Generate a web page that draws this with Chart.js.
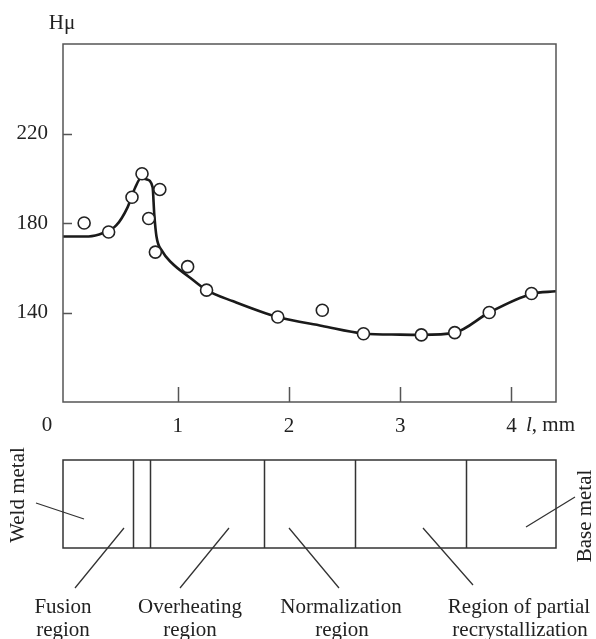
<!DOCTYPE html>
<html>
<head>
<meta charset="utf-8">
<title>Microhardness across the weld joint</title>
<script src="https://cdn.jsdelivr.net/npm/chart.js@4.4.1/dist/chart.umd.min.js"></script>
<style>
  html, body { margin: 0; padding: 0; background: #fff; }
  #wrap { width: 596px; height: 639px; }
</style>
</head>
<body>
<div id="wrap"><canvas id="myChart" width="596" height="639"></canvas></div>
<script>
// measured points (l, mm ; Hμ)
var pointX = [0.16, 0.38, 0.59, 0.68, 0.74, 0.80, 0.84, 1.09, 1.26, 1.90, 2.30, 2.67, 3.19, 3.49, 3.80, 4.18];
var pointY = [180, 176, 191.5, 202, 182, 167, 195, 160.5, 150, 138, 141, 130.5, 130, 131, 140, 148.5];

// fitted curve
var curveX = [-0.03, 0.2, 0.33, 0.45, 0.55, 0.62, 0.67, 0.72, 0.775, 0.79, 0.81, 0.86, 0.95, 1.1, 1.26, 1.5, 1.9, 2.3, 2.67, 3.0, 3.19, 3.49, 3.8, 4.18, 4.4];
var curveY = [174, 174, 175.5, 179, 187, 196, 200, 199.5, 196, 184, 174, 167.5, 162, 156, 150, 145, 138, 134, 130.6, 130.1, 130, 131, 140, 148.3, 149.5];

var xTicks = [1, 2, 3, 4];
var yTicks = [140, 180, 220];

// zone boundaries along l, mm
var zoneBounds = [0.596, 0.748, 1.78, 2.59, 3.59];

var FONT = '"Liberation Serif", "Times New Roman", serif';

function pairs(xs, ys) {
  var out = [];
  for (var i = 0; i < xs.length; i++) out.push({x: xs[i], y: ys[i]});
  return out;
}

var extras = {
  id: 'extras',
  afterDraw: function(chart) {
    var ctx = chart.ctx;
    var a = chart.chartArea;
    var sx = chart.scales.x, sy = chart.scales.y;
    ctx.save();

    // frame
    ctx.strokeStyle = '#555';
    ctx.lineWidth = 1.5;
    ctx.strokeRect(a.left, a.top, a.right - a.left, a.bottom - a.top);

    // inward ticks
    ctx.beginPath();
    yTicks.forEach(function(v) {
      var py = Math.round(sy.getPixelForValue(v)) + 0.5;
      ctx.moveTo(a.left, py); ctx.lineTo(a.left + 9, py);
    });
    xTicks.forEach(function(v) {
      var px = Math.round(sx.getPixelForValue(v)) + 0.5;
      ctx.moveTo(px, a.bottom); ctx.lineTo(px, a.bottom - 15);
    });
    ctx.stroke();

    ctx.fillStyle = '#222';
    ctx.font = '21px ' + FONT;
    ctx.textBaseline = 'middle';
    ctx.textAlign = 'center';
    ctx.fillText('Hμ', 62, 23);
    ctx.fillText('0', 47, 425);

    // axis title l, mm
    ctx.textAlign = 'left';
    ctx.font = 'italic 21px ' + FONT;
    ctx.fillText('l', 526, 425);
    var w = ctx.measureText('l').width;
    ctx.font = '21px ' + FONT;
    ctx.fillText(', mm', 526 + w, 425);

    // zone strip
    var top = 460, bot = 548;
    ctx.strokeStyle = '#333';
    ctx.lineWidth = 1.5;
    ctx.strokeRect(a.left, top, a.right - a.left, bot - top);
    ctx.beginPath();
    zoneBounds.forEach(function(v) {
      var px = Math.round(sx.getPixelForValue(v)) + 0.5;
      ctx.moveTo(px, top); ctx.lineTo(px, bot);
    });
    ctx.stroke();

    // leaders
    ctx.lineWidth = 1.3;
    ctx.beginPath();
    ctx.moveTo(36, 503); ctx.lineTo(84, 519);    // weld metal
    ctx.moveTo(124, 528); ctx.lineTo(75, 588);   // fusion
    ctx.moveTo(229, 528); ctx.lineTo(180, 588);  // overheating
    ctx.moveTo(289, 528); ctx.lineTo(339, 588);  // normalization
    ctx.moveTo(423, 528); ctx.lineTo(473, 585);  // partial recryst.
    ctx.moveTo(526, 527); ctx.lineTo(575, 497);  // base metal
    ctx.stroke();

    // labels
    ctx.textAlign = 'center';
    ctx.fillText('Fusion', 63, 607);
    ctx.fillText('region', 63, 630);
    ctx.fillText('Overheating', 190, 607);
    ctx.fillText('region', 190, 630);
    ctx.fillText('Normalization', 341, 607);
    ctx.fillText('region', 342, 630);
    ctx.fillText('Region of partial', 519, 607);
    ctx.fillText('recrystallization', 520, 630);

    ctx.save();
    ctx.translate(18, 495);
    ctx.rotate(-Math.PI / 2);
    ctx.fillText('Weld metal', 0, 0);
    ctx.restore();

    ctx.save();
    ctx.translate(585, 516);
    ctx.rotate(-Math.PI / 2);
    ctx.fillText('Base metal', 0, 0);
    ctx.restore();

    ctx.restore();
  }
};

var ctx = document.getElementById('myChart').getContext('2d');
var chart = new Chart(ctx, {
  type: 'scatter',
  data: {
    datasets: [{
      label: 'curve',
      data: pairs(curveX, curveY),
      showLine: true,
      borderColor: '#1a1a1a',
      borderWidth: 2.6,
      pointRadius: 0,
      cubicInterpolationMode: 'monotone',
      order: 2
    }, {
      label: 'points',
      data: pairs(pointX, pointY),
      showLine: false,
      pointRadius: 6,
      pointBorderWidth: 1.6,
      pointBackgroundColor: '#fff',
      pointBorderColor: '#222',
      order: 1
    }]
  },
  options: {
    responsive: false,
    animation: false,
    layout: { padding: { top: 44, right: 40, left: 0, bottom: 197 } },
    plugins: { legend: { display: false }, tooltip: { enabled: false } },
    scales: {
      x: {
        type: 'linear',
        min: -0.03,
        max: 4.4,
        grid: { display: false, drawTicks: false },
        border: { display: false },
        afterBuildTicks: function(s) { s.ticks = xTicks.map(function(v) { return {value: v}; }); },
        afterFit: function(s) { s.height = 40; },
        ticks: { color: '#222', padding: 12, font: { family: FONT, size: 21 } }
      },
      y: {
        min: 100,
        max: 260,
        grid: { display: false, drawTicks: false },
        border: { display: false },
        afterBuildTicks: function(s) { s.ticks = yTicks.map(function(v) { return {value: v}; }); },
        afterFit: function(s) { s.width = 63; },
        ticks: { color: '#222', padding: 15, font: { family: FONT, size: 21 } }
      }
    }
  },
  plugins: [extras]
});
</script>
</body>
</html>
